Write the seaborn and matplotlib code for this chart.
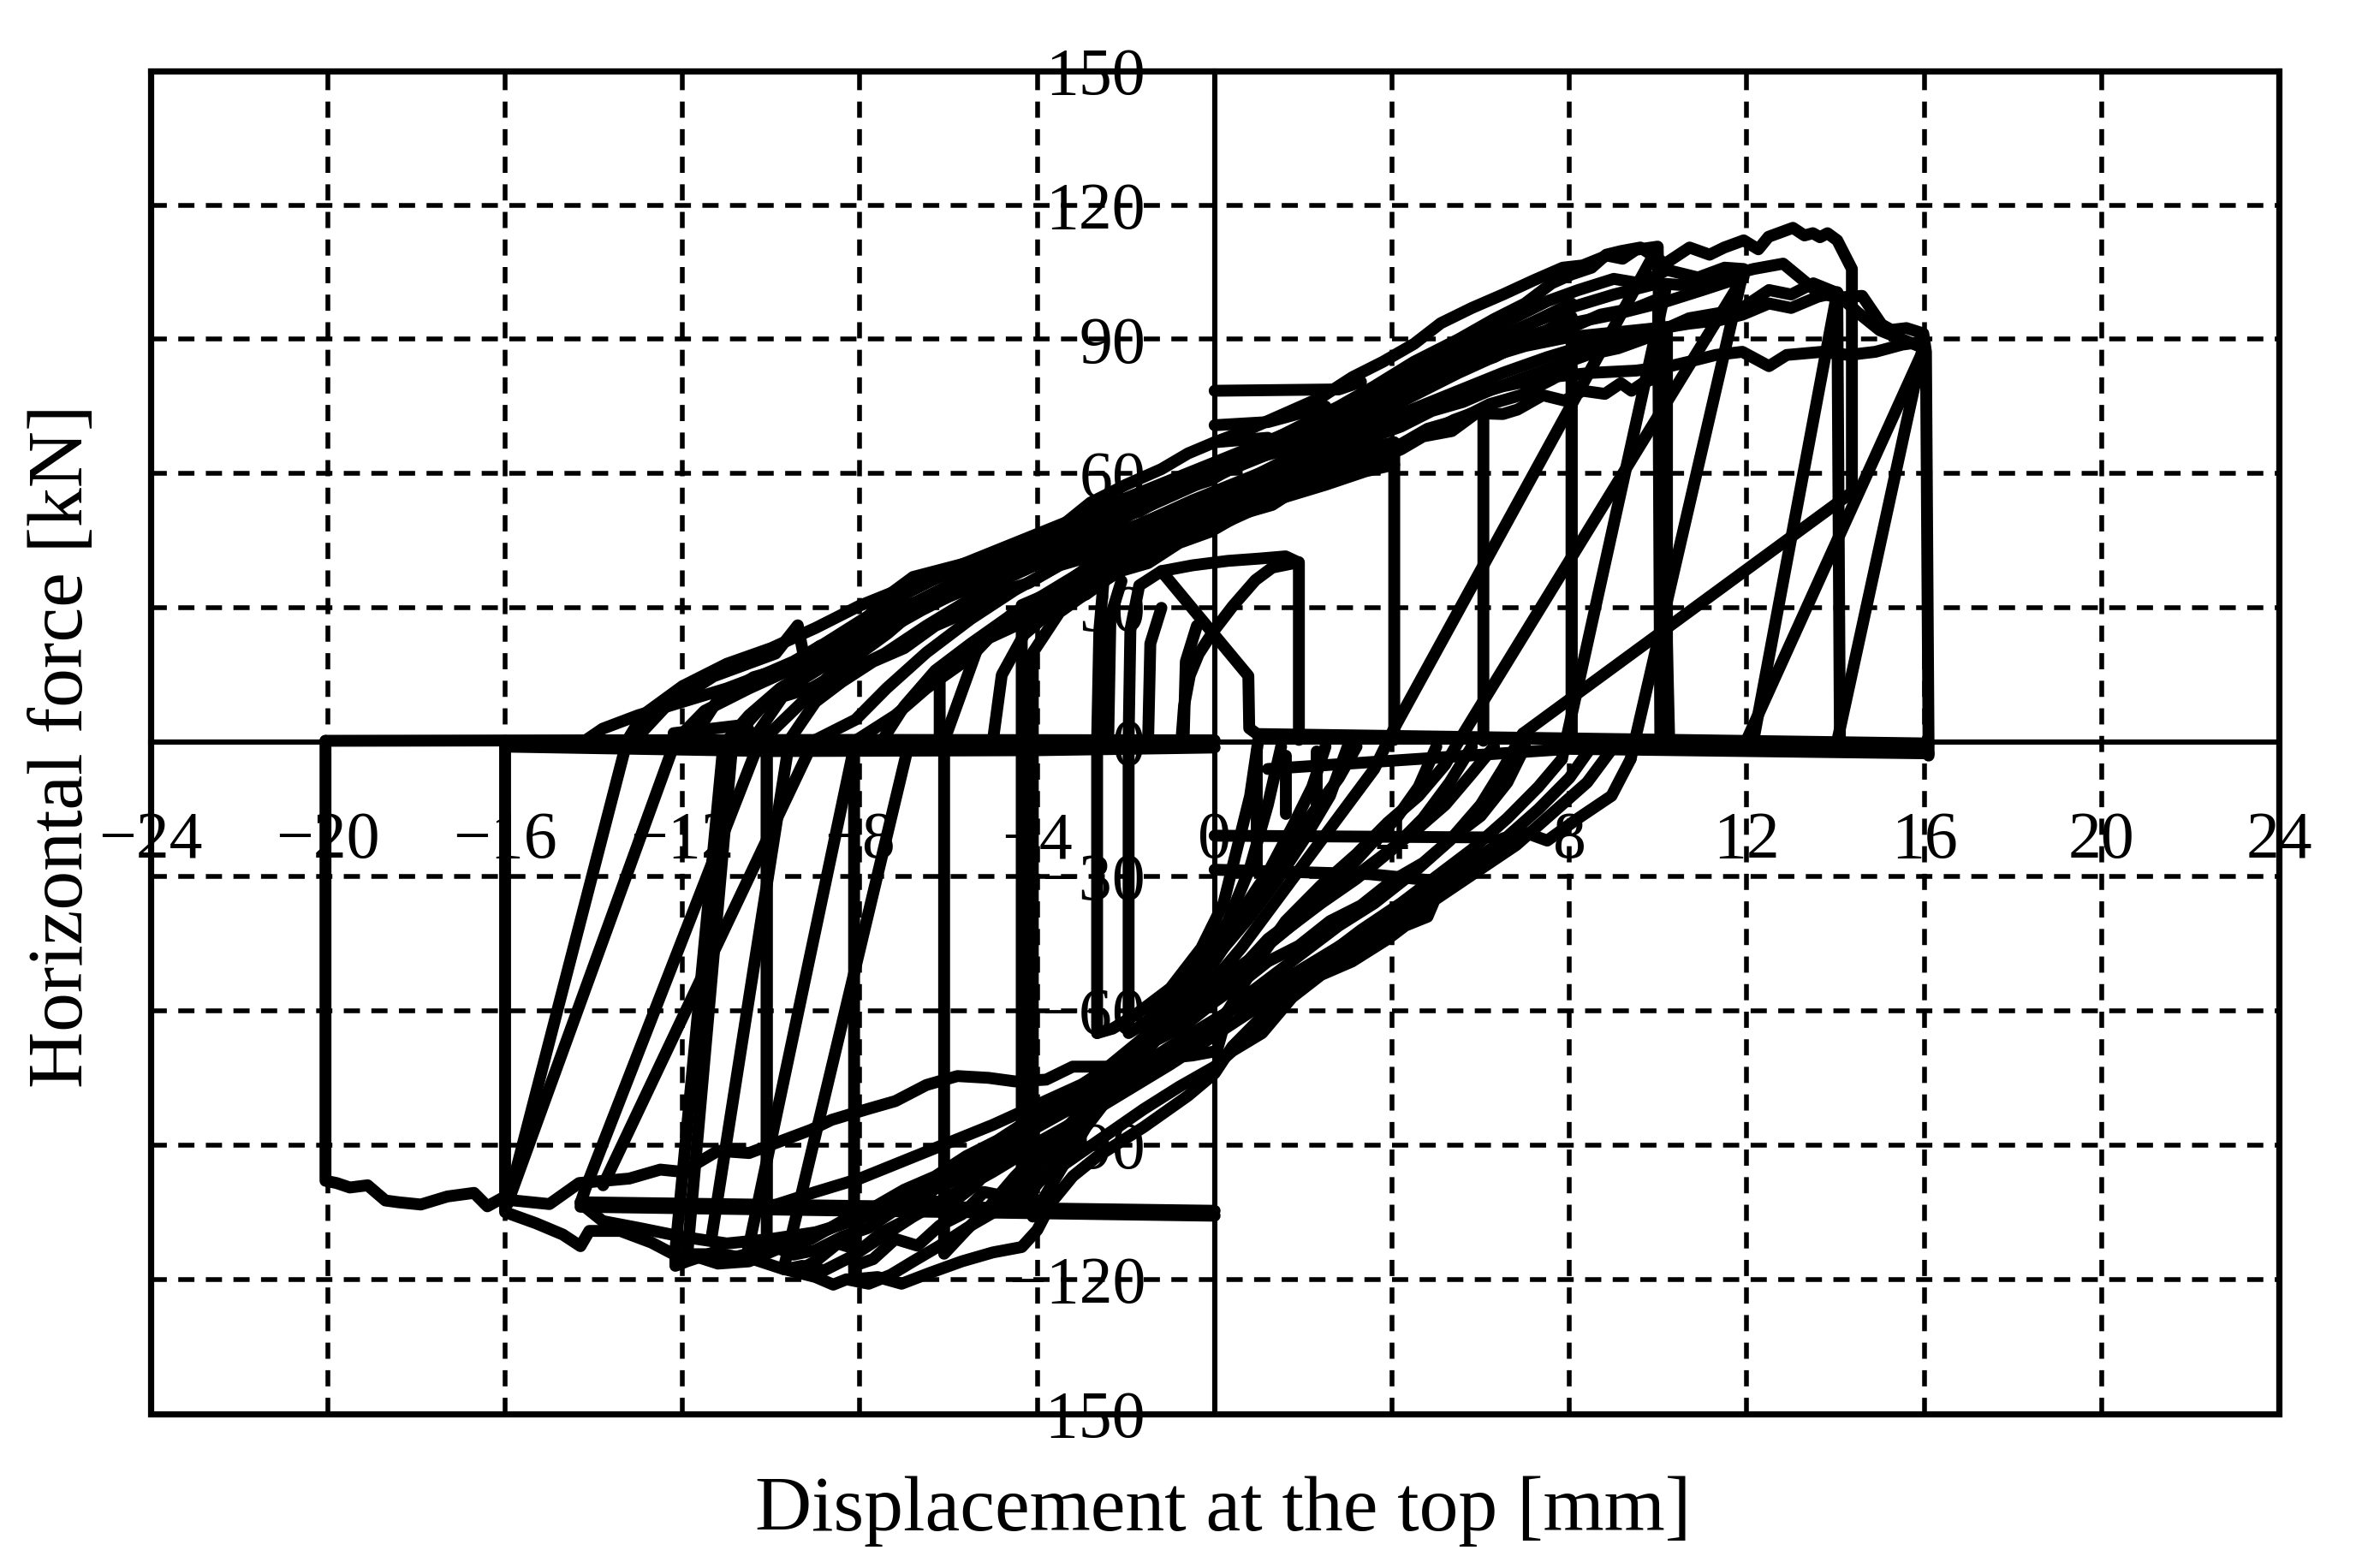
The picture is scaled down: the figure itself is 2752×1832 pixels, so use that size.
import pandas as pd
import matplotlib.pyplot as plt
import seaborn as sns
from matplotlib.patches import Rectangle

# axis ticks
x_ticks = [-24, -20, -16, -12, -8, -4, 0, 4, 8, 12, 16, 20, 24]
y_ticks = [-150, -120, -90, -60, -30, 0, 30, 60, 90, 120, 150]

# branches: (displacement mm, force kN)
up1 = [(-13.3, 0.3), (-13.0, 1.3), (-12.4, 7.7), (-11.3, 14.7), (-9.9, 19.8), (-9.4, 26.1), (-9.2, 15.9),
       (-8.3, 22.9), (-7.4, 32.5), (-6.8, 36.9), (-5.6, 40.0), (-4.6, 42.6), (-4.05, 44.6), (-3.6, 47.1),
       (-2.8, 53.5), (-2.0, 57.5), (-1.2, 61.0), (-0.6, 64.5), (0.0, 67.0), (0.8, 70.0), (1.6, 73.5),
       (2.4, 77.0), (3.1, 81.5), (3.8, 85.0), (4.5, 89.0), (5.1, 93.6), (5.8, 97.0), (6.5, 100.0),
       (7.2, 103.2), (7.85, 106.0), (8.3, 106.5), (8.85, 108.7), (9.2, 108.0), (9.5, 110.0), (9.99, 110.7),
       (10.25, 0.5)]
up_top = [(-11.0, 0.3), (-10.5, 6.0), (-9.8, 12.0), (-9.0, 17.0), (-8.2, 22.0), (-7.5, 27.0), (-6.8, 31.0),
          (-6.0, 35.0), (-5.2, 39.0), (-4.4, 42.5), (-3.6, 46.0), (-2.8, 49.5), (-2.0, 53.0), (-1.2, 56.5),
          (-0.4, 60.0), (0.4, 63.5), (1.2, 67.0), (2.0, 71.0), (2.8, 75.0), (3.6, 79.5), (4.5, 85.0),
          (5.5, 90.0), (6.3, 94.5), (7.0, 98.0), (7.6, 102.5), (8.05, 104.5), (8.5, 106.0), (8.83, 108.9),
          (9.16, 109.7), (9.6, 110.5), (10.16, 106.9), (10.71, 110.5), (11.16, 108.9), (11.49, 110.5),
          (11.93, 112.1), (12.26, 110.1), (12.49, 112.9), (13.04, 114.9), (13.3, 113.2), (13.49, 113.7),
          (13.65, 112.8), (13.82, 113.7), (14.04, 112.1), (14.37, 105.7), (14.37, 55.8), (6.95, 1.9)]
up2 = [(-12.2, 2.0), (-10.57, 3.9), (-10.4, 0.7), (-9.74, 10.2), (-9.07, 12.2), (-8.4, 16.0), (-7.96, 17.3),
       (-7.44, 19.8), (-6.5, 26.0), (-5.5, 32.0), (-4.6, 37.0), (-3.5, 42.0), (-2.5, 47.5), (-1.5, 53.0),
       (-0.5, 58.5), (0.5, 62.5), (1.5, 66.5), (2.5, 71.5), (3.5, 77.0), (4.3, 83.0), (5.2, 87.5),
       (6.0, 91.5), (6.8, 95.0), (7.5, 98.5), (8.2, 101.0), (9.0, 103.5), (9.6, 102.5), (10.2, 105.5),
       (10.9, 103.8), (11.5, 106.0), (11.93, 105.7), (9.38, -3.8)]
up3 = [(-10.1, 1.3), (-8.7, 14.7), (-7.37, 24.3), (-6.48, 31.9), (-5.07, 38.9), (-4.0, 43.0), (-3.0, 47.0),
       (-2.0, 51.5), (-1.0, 55.5), (0.0, 59.5), (1.0, 63.5), (2.0, 67.5), (3.0, 72.0), (4.0, 78.0),
       (5.0, 83.0), (6.0, 87.0), (7.0, 90.5), (8.0, 93.5), (9.0, 95.5), (10.2, 98.5), (11.0, 101.0),
       (11.93, 104.0), (5.51, 0.3)]
up4 = [(-9.04, 0.3), (-8.1, 5.0), (-7.4, 12.0), (-6.5, 20.0), (-5.5, 27.5), (-4.5, 34.0), (-3.5, 39.5),
       (-2.5, 44.5), (-1.5, 49.5), (-0.5, 54.0), (0.5, 58.0), (1.5, 62.0), (2.5, 66.0), (3.5, 70.5),
       (4.5, 74.5), (5.5, 78.5), (6.5, 82.5), (7.5, 86.0), (8.5, 89.0), (9.5, 91.0), (10.27, 92.8),
       (10.7, 93.5), (11.4, 94.3), (11.9, 95.5), (12.5, 98.0), (13.0, 97.0), (13.6, 99.5), (14.04, 100.5),
       (14.1, 0.5)]
up5 = [(-13.25, 0.3), (-12.9, 6.0), (-12.0, 12.5), (-11.0, 17.5), (-10.0, 21.0), (-9.0, 25.5), (-8.0, 30.5),
       (-7.0, 34.5), (-6.0, 38.5), (-5.0, 42.5), (-4.0, 46.5), (-3.0, 50.5), (-2.0, 54.5), (-1.0, 58.5),
       (0.0, 62.5), (1.0, 66.5), (2.0, 70.5), (3.0, 74.5), (4.0, 79.5), (5.0, 84.5), (6.0, 89.0),
       (7.0, 93.0), (8.0, 97.0), (9.0, 100.0), (10.0, 102.5), (10.7, 102.0), (11.5, 104.0), (12.15, 105.7),
       (12.82, 106.9), (13.26, 103.3), (13.6, 100.5), (14.04, 99.3), (14.6, 99.7), (15.04, 93.3),
       (15.26, 92.1), (15.6, 92.5), (15.98, 91.3), (16.04, 87.2), (16.1, -3.0)]
up6 = [(-12.16, 0.3), (-11.5, 7.0), (-10.5, 12.0), (-9.5, 16.5), (-8.5, 21.0), (-7.5, 25.5), (-6.5, 30.5),
       (-5.5, 34.5), (-4.5, 38.0), (-3.5, 41.5), (-2.5, 45.5), (-1.5, 49.5), (-0.5, 53.5), (0.5, 57.5),
       (1.5, 61.5), (2.5, 65.5), (3.5, 69.5), (4.5, 73.5), (5.5, 76.5), (6.5, 79.5), (7.5, 81.5),
       (8.5, 82.5), (9.5, 83.0), (10.27, 84.0), (10.7, 85.0), (11.3, 86.5), (11.9, 87.2), (12.5, 84.0),
       (12.9, 86.5), (13.7, 87.2), (14.3, 86.5), (14.9, 87.2), (15.5, 88.8), (16.0, 89.5), (14.04, 0.25)]
up7 = [(-10.9, 0.3), (-10.2, 8.0), (-9.3, 14.0), (-8.4, 19.5), (-7.5, 24.5), (-6.6, 29.5), (-5.7, 34.0),
       (-4.8, 38.0), (-3.9, 42.0), (-3.0, 46.0), (-2.1, 50.0), (-1.2, 54.0), (-0.3, 58.0), (0.6, 62.0),
       (1.5, 66.0), (2.4, 70.0), (3.3, 74.0), (4.2, 78.0), (5.1, 82.0), (6.0, 85.5), (7.0, 88.5),
       (8.0, 90.5), (9.0, 91.5), (10.27, 92.8), (10.7, 94.7), (11.4, 95.9), (11.9, 97.0), (12.5, 101.0),
       (13.0, 100.0), (13.5, 102.5), (14.0, 100.5), (14.5, 96.0), (15.0, 92.0), (15.5, 90.0), (16.0, 88.0),
       (11.99, 0.3)]
up8 = [(-8.1, 0.3), (-7.2, 6.0), (-6.5, 12.0), (-5.5, 19.0), (-4.56, 28.8), (-3.8, 31.5), (-3.0, 35.0),
       (-2.0, 39.5), (-1.0, 44.0), (0.0, 48.0), (1.0, 52.5), (2.0, 57.0), (2.9, 60.5), (3.6, 63.0),
       (4.2, 65.4), (4.7, 68.3), (5.35, 69.5), (5.9, 73.5), (6.5, 73.3), (6.83, 74.3), (7.4, 77.5),
       (7.89, 76.3), (8.3, 78.5), (8.8, 77.8), (9.16, 80.2), (9.4, 78.5), (9.7, 80.5), (10.15, 81.9),
       (10.15, 0.5)]
up9 = [(-7.5, 0.3), (-7.0, 8.0), (-6.3, 16.0), (-5.5, 22.0), (-4.5, 29.0), (-3.5, 35.0), (-2.5, 41.0),
       (-1.5, 47.0), (-0.5, 52.5), (0.5, 57.5), (1.5, 62.5), (2.5, 67.5), (3.5, 72.5), (4.5, 77.5),
       (5.5, 82.5), (6.5, 87.0), (7.3, 91.0), (8.05, 95.0), (8.05, 0.3)]
up10 = [(-6.2, 0.3), (-6.2, 16.0), (-5.5, 21.5), (-4.7, 26.5), (-4.0, 30.5), (-3.0, 35.5), (-2.0, 40.5),
        (-1.0, 45.5), (0.0, 50.0), (1.0, 55.0), (2.0, 59.5), (2.8, 62.5), (3.5, 65.0), (4.2, 66.5),
        (4.8, 69.0), (5.4, 72.0), (6.06, 74.4), (6.06, 0.3)]
up11 = [(-4.35, 0.5), (-4.35, 30.6), (-3.6, 33.8), (-2.8, 39.5), (-2.0, 44.0), (-1.0, 49.0), (0.0, 53.0),
        (0.8, 56.0), (1.6, 59.0), (2.18, 62.2), (3.0, 63.5), (3.6, 64.5), (4.05, 65.4), (4.05, 0.5)]
up12 = [(-4.1, 0.5), (-4.1, 20.0), (-3.5, 29.0), (-2.5, 36.0), (-1.5, 42.0), (-0.5, 47.0), (0.5, 51.0),
        (1.5, 54.5), (2.5, 57.5), (3.4, 60.5), (4.05, 62.0)]
up13 = [(-2.65, -65.0), (-2.65, 0.3), (-2.6, 25.0), (-2.5, 36.5), (-2.0, 41.5), (-1.2, 46.0), (-0.5, 50.0),
        (0.3, 54.0), (1.0, 57.0), (1.9, 60.0), (2.6, 62.0), (3.3, 63.5), (4.05, 64.5)]
up14 = [(-14.2, 0.3), (-13.8, 3.0), (-13.0, 6.0), (-12.0, 9.0), (-11.0, 12.0), (-10.2, 15.0), (-9.5, 18.0),
        (-8.8, 22.0), (-8.0, 27.0), (-7.2, 32.0), (-6.4, 36.0), (-5.5, 40.0), (-4.6, 43.0), (-3.7, 46.5),
        (-2.8, 50.0), (-1.9, 54.0), (-1.0, 57.5), (0.0, 61.0), (1.0, 65.0), (2.0, 69.0), (2.9, 73.0),
        (3.8, 77.0), (4.6, 81.0), (5.4, 85.0), (6.2, 89.0), (7.0, 93.0), (8.05, 98.0)]
up15 = [(-6.1, 0.3), (-5.3, 22.3), (-4.05, 28.0), (-3.6, 33.8), (-2.8, 39.5), (-2.0, 43.0), (-1.0, 47.5),
        (0.0, 51.5), (1.0, 56.0), (2.0, 60.5), (3.0, 64.5), (4.05, 67.0)]
up16 = [(-9.6, 0.3), (-9.0, 9.0), (-8.4, 13.5), (-7.7, 18.0), (-7.0, 21.0), (-6.3, 26.0), (-5.6, 29.0),
        (-4.9, 33.5), (-4.2, 35.5), (-3.5, 39.5), (-2.8, 41.5), (-2.1, 45.0), (-1.4, 47.5), (-0.7, 51.0),
        (0.0, 53.0), (0.7, 56.5), (1.4, 58.5), (2.1, 62.0), (2.8, 64.5), (3.5, 68.0), (4.2, 70.5),
        (4.9, 74.0), (5.6, 76.0), (6.3, 79.0), (7.0, 81.5), (7.7, 84.0), (8.4, 86.5), (9.1, 88.0),
        (9.8, 90.5), (10.2, 92.0), (10.2, 0.5)]
up17 = [(-5.0, 0.3), (-4.8, 15.0), (-4.3, 24.0), (-3.6, 30.0), (-2.9, 33.0), (-2.2, 38.0), (-1.5, 40.0),
        (-0.8, 44.5), (-0.1, 47.0), (0.6, 51.0), (1.3, 53.0), (2.0, 57.5), (2.7, 59.5), (3.4, 63.5),
        (4.1, 66.0), (4.8, 70.0), (5.5, 72.0), (6.2, 75.5), (6.9, 77.5), (7.6, 81.0), (8.05, 83.5),
        (8.05, 0.3)]
up18 = [(-11.8, 0.3), (-11.2, 9.5), (-10.4, 14.5), (-9.6, 16.8), (-8.9, 21.5), (-8.1, 24.0), (-7.3, 29.5),
        (-6.5, 32.0), (-5.7, 36.5), (-4.9, 38.5), (-4.1, 43.0), (-3.3, 45.0), (-2.5, 49.5), (-1.7, 51.5),
        (-0.9, 56.0), (-0.1, 58.5), (0.7, 63.0), (1.5, 65.0), (2.3, 69.5), (3.1, 72.0), (3.9, 76.5),
        (4.7, 79.0), (5.5, 83.5), (6.3, 86.0), (7.1, 90.0), (7.9, 92.0), (8.7, 95.5), (9.5, 97.0),
        (10.0, 99.0), (10.05, 0.5)]

# small cycles around the origin
sm1 = [(1.9, 0.5), (1.9, 40.2), (1.3, 39.0), (0.92, 36.2), (0.41, 30.4), (-0.04, 24.6), (-0.36, 19.7),
       (-0.56, 14.9), (-0.69, 8.1), (-0.75, 0.3)]
sm2 = [(-1.94, 0.5), (-1.9, 25.0), (-1.7, 35.0), (-1.2, 38.2), (-0.5, 39.5), (0.3, 40.5), (1.0, 41.0),
       (1.6, 41.5), (1.88, 40.2)]
sm3 = [(-1.2, 38.2), (0.76, 14.8), (0.78, 3.1), (1.0, 1.5)]
vs1 = [(-2.4, 0.3), (-2.35, 28.0), (-2.1, 36.0)]
vs2 = [(-1.5, 0.3), (-1.45, 22.0), (-1.2, 30.0)]
vs3 = [(-0.7, 0.3), (-0.65, 18.0), (-0.4, 26.0)]
hp1 = [(0.0, 78.5), (2.8, 78.8), (3.3, 80.5)]
hp2 = [(0.0, 70.8), (1.2, 71.5), (2.5, 75.0)]
hp3 = [(0.0, 67.0), (1.2, 68.0)]

# unloading lines after positive peaks
dp1 = [(9.99, 110.5), (4.07, 3.5)]
dp2 = [(10.16, 100.8), (7.83, -3.8)]
un14 = [(14.04, 100.5), (12.16, 1.0)]

# near-zero force segments
z1 = [(1.0, 1.8), (16.1, -0.3)]
z2 = [(1.2, -6.0), (8.0, -1.5), (16.1, -2.5)]
z3 = [(-20.05, 0.3), (-8.0, 0.5), (0.0, 0.4)]
z4 = [(-16.0, -1.0), (-10.0, -2.0), (-4.0, -1.8), (0.0, -1.2)]

# reloading lines after negative peaks
dn1 = [(-15.95, -103.2), (-13.25, 0.3)]
dn2 = [(-15.95, -103.2), (-12.16, 0.3)]
dn4 = [(-13.79, -99.0), (-9.04, 0.3)]
dn6 = [(-11.89, -114.3), (-10.87, 0.3)]
dn7 = [(-11.35, -111.0), (-9.59, 0.3)]
dn9 = [(-10.54, -114.3), (-8.1, 0.3)]

# loading branches towards negative displacement
lo1 = [(9.38, -3.8), (8.95, -12.0), (8.2, -17.0), (7.5, -22.0), (7.03, -20.3), (6.5, -21.5), (6.0, -27.0),
       (5.5, -30.0), (5.1, -32.0), (4.8, -39.0), (4.3, -41.0), (3.9, -44.0), (3.1, -49.0), (2.4, -52.0),
       (1.75, -57.0), (1.07, -65.0), (0.4, -69.0), (0.0, -72.5), (-0.8, -77.0), (-1.6, -82.0),
       (-2.4, -87.5), (-3.2, -93.0), (-4.0, -98.5), (-4.8, -104.0), (-5.5, -108.0), (-6.2, -112.5),
       (-6.8, -116.0), (-7.3, -119.0), (-7.8, -121.0), (-8.3, -120.0), (-8.6, -121.2), (-9.0, -119.5),
       (-9.72, -117.7), (-6.88, 0.3)]
lo2 = [(6.95, 1.9), (6.5, -6.0), (6.0, -14.0), (5.3, -22.0), (4.5, -29.0), (3.6, -36.0), (2.8, -41.0),
       (2.0, -47.0), (1.2, -53.0), (0.4, -59.0), (0.0, -63.0), (-1.0, -70.0), (-2.0, -77.0), (-3.0, -84.0),
       (-4.0, -90.0), (-5.0, -96.0), (-6.0, -101.5), (-6.8, -106.0), (-7.5, -110.5), (-8.2, -115.0),
       (-8.8, -118.0), (-9.3, -117.0), (-9.7, -117.8), (-10.5, -115.2), (-11.3, -114.4), (-12.2, -114.4),
       (-12.7, -111.8), (-13.4, -109.2), (-14.1, -109.2), (-14.3, -112.6), (-14.7, -110.0),
       (-15.3, -107.5), (-16.0, -105.0), (-16.0, 0.3)]
lo3 = [(5.51, 0.3), (5.2, -5.0), (4.6, -12.0), (3.9, -18.0), (3.2, -25.0), (2.4, -32.0), (1.6, -40.0),
       (0.9, -50.0), (0.3, -60.0), (0.05, -69.0), (-0.5, -70.0), (-1.3, -70.8), (-2.1, -72.5),
       (-3.2, -72.5), (-3.8, -75.4), (-4.5, -75.8), (-5.1, -75.0), (-5.8, -74.6), (-6.5, -76.6),
       (-7.2, -80.2), (-7.8, -81.9), (-8.64, -84.4), (-9.1, -86.6), (-9.8, -89.2), (-10.5, -91.8),
       (-11.2, -91.3), (-12.0, -96.0), (-12.5, -95.5), (-13.2, -97.5), (-14.33, -98.5), (-15.0, -103.2),
       (-15.8, -102.4), (-16.0, -101.5), (-16.4, -103.7), (-16.7, -100.7), (-17.3, -101.5),
       (-17.9, -103.3), (-18.4, -102.8), (-18.7, -102.4), (-19.1, -99.0), (-19.5, -99.5), (-19.8, -98.5),
       (-20.05, -98.0), (-20.05, 0.3)]
lo4 = [(7.83, -3.8), (7.3, -10.0), (6.6, -17.0), (5.8, -24.0), (5.0, -30.0), (4.2, -36.0), (3.3, -42.0),
       (2.5, -48.0), (1.7, -55.0), (1.0, -62.0), (0.4, -68.0), (0.0, -74.0), (-0.6, -79.0), (-1.6, -86.0),
       (-2.65, -92.6), (-3.2, -97.0), (-3.67, -102.7), (-4.0, -109.0), (-4.35, -112.8), (-5.0, -114.0),
       (-5.7, -116.0), (-6.4, -118.5), (-7.06, -121.0), (-7.6, -119.5), (-8.13, -120.0), (-8.13, 0.3)]
lo5 = [(4.07, 3.5), (3.6, -6.0), (3.0, -14.0), (2.4, -22.0), (1.8, -30.0), (1.2, -38.0), (0.6, -46.0),
       (0.0, -53.0), (-0.7, -60.0), (-1.5, -68.0), (-2.3, -76.0), (-3.0, -83.0), (-3.8, -90.0),
       (-4.5, -97.0), (-5.1, -104.0), (-5.6, -109.0), (-6.1, -114.3), (-6.1, 0.3)]
lo6 = [(3.2, -1.0), (2.8, -8.0), (2.2, -16.0), (1.6, -24.0), (1.0, -32.0), (0.4, -41.0), (-0.2, -50.0),
       (-0.8, -59.0), (-1.5, -68.0), (-2.2, -77.0), (-2.9, -86.0), (-3.5, -96.0), (-4.1, -106.0),
       (-4.1, 0.3)]
lo7 = [(6.3, -1.0), (5.8, -7.0), (5.2, -14.0), (4.5, -20.0), (3.7, -26.0), (2.9, -32.0), (2.1, -38.0),
       (1.3, -44.5), (0.6, -51.0), (0.0, -57.0), (-1.0, -64.0), (-2.0, -70.5), (-3.0, -76.5), (-4.0, -81.0),
       (-5.0, -85.5), (-6.0, -89.5), (-7.0, -93.5), (-8.0, -97.5), (-9.0, -100.5), (-10.1, -104.0),
       (-10.1, 0.3)]
lo8 = [(8.5, -1.0), (8.0, -8.0), (7.3, -15.0), (6.5, -22.0), (5.7, -27.5), (4.8, -33.5), (4.0, -38.5),
       (3.0, -44.5), (2.0, -50.5), (1.0, -56.5), (0.0, -62.0), (-1.0, -68.0), (-2.0, -74.5), (-3.0, -80.5),
       (-4.0, -86.0), (-5.0, -91.5), (-6.0, -96.5), (-7.0, -101.5), (-8.0, -106.0), (-9.0, -110.0),
       (-10.0, -113.0), (-10.8, -115.0), (-11.3, -114.0), (-11.9, -116.0), (-12.16, -117.0),
       (-12.16, -113.5), (-11.07, 0.3)]
lo9 = [(9.0, -1.0), (8.4, -9.0), (7.6, -16.0), (6.8, -23.0), (5.9, -29.0), (5.0, -35.0), (4.0, -41.0),
       (3.0, -47.0), (2.0, -53.0), (1.0, -59.0), (0.0, -65.5), (-1.0, -72.0), (-2.0, -78.0), (-3.0, -84.0),
       (-4.0, -89.5), (-5.0, -94.0), (-6.0, -98.5), (-7.0, -102.5), (-8.0, -106.5), (-9.0, -109.5),
       (-10.0, -111.0), (-11.0, -112.0), (-12.0, -110.5), (-13.0, -108.5), (-13.8, -107.0),
       (-14.3, -103.0), (-14.19, -99.8), (-10.26, 0.3)]
lo10 = [(5.0, -1.0), (4.6, -10.0), (4.1, -17.0), (3.6, -22.0), (3.0, -28.5), (2.4, -33.0), (1.8, -39.5),
        (1.2, -44.0), (0.6, -50.5), (0.0, -55.0), (-0.6, -61.0), (-1.2, -64.5), (-1.8, -70.0), (-2.4, -73.5),
        (-3.0, -79.0), (-3.6, -82.0), (-4.2, -87.0), (-4.8, -90.0), (-5.4, -95.0), (-6.0, -97.5),
        (-6.6, -102.0), (-7.2, -104.5), (-7.8, -108.5), (-8.4, -110.5), (-9.0, -113.5), (-9.5, -114.5),
        (-10.1, -112.0), (-10.1, 0.3)]
lo11 = [(7.0, -1.0), (6.6, -9.0), (6.0, -16.5), (5.4, -21.0), (4.7, -27.0), (4.0, -31.0), (3.3, -36.5),
        (2.6, -40.0), (1.9, -45.5), (1.2, -49.0), (0.5, -54.5), (0.0, -58.0), (-0.7, -63.5), (-1.4, -67.0),
        (-2.1, -72.5), (-2.8, -76.0), (-3.5, -81.0), (-4.2, -84.5), (-4.9, -89.0), (-5.6, -92.5),
        (-6.3, -97.0), (-7.0, -100.0), (-7.7, -104.0), (-8.4, -107.0), (-9.1, -111.0), (-9.8, -113.0),
        (-10.5, -116.0), (-11.2, -116.5), (-11.89, -114.3)]
lo12 = [(2.5, -1.0), (2.2, -10.0), (1.8, -18.0), (1.4, -25.5), (1.0, -33.0), (0.6, -39.5), (0.2, -46.0),
        (-0.3, -53.5), (-0.8, -60.0), (-1.4, -67.5), (-2.0, -74.0), (-2.6, -81.5), (-3.2, -88.0),
        (-3.7, -95.0), (-4.1, -100.0), (-4.35, -105.0), (-4.35, 0.3)]
lo13 = [(3.0, -1.0), (2.6, -12.0), (2.0, -22.0), (1.4, -31.0), (0.8, -39.0), (0.2, -46.0), (-0.4, -53.0),
        (-1.0, -60.0), (-1.7, -67.0), (-2.4, -74.0), (-3.0, -82.0), (-3.6, -90.0), (-4.2, -97.0),
        (-4.7, -101.5), (-5.2, -100.5), (-5.7, -105.5), (-6.2, -108.0), (-6.7, -112.5), (-7.2, -111.0),
        (-7.7, -115.5), (-8.13, -117.0)]
lo14 = [(5.8, -1.0), (5.3, -9.0), (4.7, -17.0), (4.0, -24.0), (3.2, -30.5), (2.4, -36.0), (1.6, -42.0),
        (0.8, -48.5), (0.0, -54.0), (-0.8, -60.5), (-1.6, -66.0), (-2.4, -72.5), (-3.2, -78.0), (-4.0, -85.0),
        (-4.8, -92.0), (-5.4, -99.0), (-6.0, -103.5), (-6.5, -102.0), (-7.0, -107.0), (-7.5, -109.5),
        (-8.0, -113.5), (-8.5, -112.0), (-9.0, -116.0), (-9.4, -118.0), (-9.72, -117.7)]
los1 = [(1.0, 1.5), (0.8, -12.0), (0.5, -24.0), (0.2, -36.0), (-0.3, -46.0), (-1.0, -55.0), (-1.8, -61.0),
        (-2.3, -64.0), (-2.65, -65.0)]
los2 = [(1.5, -1.0), (1.2, -14.0), (0.8, -28.0), (0.3, -40.0), (-0.4, -50.0), (-1.1, -58.0), (-1.6, -63.0),
        (-1.94, -65.0), (-1.94, 0.5)]

# straight jumps in the record
hn1 = [(0.0, -104.7), (-14.3, -102.8)]
hn2 = [(0.0, -105.8), (-14.3, -103.8)]
hn3 = [(0.0, -20.9), (6.3, -21.3)]
hn4 = [(0.0, -28.5), (3.5, -29.5), (5.0, -31.0)]
vn1 = [(0.95, -2.0), (0.95, -28.0)]
vn2 = [(1.6, -3.0), (1.6, -16.0)]
vn3 = [(2.3, -2.0), (2.3, -15.0)]

branches = {
    'up1': up1, 'up_top': up_top, 'up2': up2, 'up3': up3, 'up4': up4, 'up5': up5, 'up6': up6, 'up7': up7,
    'up8': up8, 'up9': up9, 'up10': up10, 'up11': up11, 'up12': up12, 'up13': up13, 'up14': up14,
    'up15': up15, 'up16': up16, 'up17': up17, 'up18': up18,
    'sm1': sm1, 'sm2': sm2, 'sm3': sm3, 'vs1': vs1, 'vs2': vs2, 'vs3': vs3,
    'hp1': hp1, 'hp2': hp2, 'hp3': hp3,
    'dp1': dp1, 'dp2': dp2, 'un14': un14, 'z1': z1, 'z2': z2, 'z3': z3, 'z4': z4,
    'dn1': dn1, 'dn2': dn2, 'dn4': dn4, 'dn6': dn6, 'dn7': dn7, 'dn9': dn9,
    'lo1': lo1, 'lo2': lo2, 'lo3': lo3, 'lo4': lo4, 'lo5': lo5, 'lo6': lo6, 'lo7': lo7, 'lo8': lo8,
    'lo9': lo9, 'lo10': lo10, 'lo11': lo11, 'lo12': lo12, 'lo13': lo13, 'lo14': lo14,
    'los1': los1, 'los2': los2,
    'hn1': hn1, 'hn2': hn2, 'hn3': hn3, 'hn4': hn4, 'vn1': vn1, 'vn2': vn2, 'vn3': vn3,
}
rows = [(name, i, x, y) for name, pts in branches.items() for i, (x, y) in enumerate(pts)]
df = pd.DataFrame(rows, columns=['branch', 'order', 'disp', 'force'])

sns.set_theme(style='white')
plt.rcParams['font.family'] = ['Liberation Serif', 'DejaVu Serif']
plt.rcParams['text.color'] = 'black'
plt.rcParams['axes.labelcolor'] = 'black'

fig = plt.figure(figsize=(13.76, 9.16), dpi=200)
ax = fig.add_axes([0.0638, 0.0985, 0.9035, 0.8564])

sns.lineplot(data=df, x='disp', y='force', units='branch', estimator=None, sort=False,
             color='black', legend=False, ax=ax)
for line in ax.lines:
    line.set_linewidth(5.0)
    line.set_solid_joinstyle('round')
    line.set_solid_capstyle('round')

ax.set_xlim(-24, 24)
ax.set_ylim(-150, 150)
ax.set_xticks(x_ticks)
ax.set_yticks(y_ticks)
ax.grid(True, color='black', linestyle=(0, (3.4, 2.4)), linewidth=2.0)
ax.tick_params(length=0, pad=29, labelsize=28, colors='black')

# axes cross at the origin, plus an outer frame
ax.spines['left'].set_position(('data', 0))
ax.spines['bottom'].set_position(('data', 0))
for s in ax.spines.values():
    s.set_color('black')
    s.set_linewidth(2.2)
ax.add_patch(Rectangle((0, 0), 1, 1, transform=ax.transAxes, fill=False,
                       edgecolor='black', linewidth=2.6, zorder=3, clip_on=False))

ax.set_xlabel('Displacement at the top [mm]', fontsize=33, va='center')
ax.xaxis.set_label_coords(0.504, -0.073)
ax.set_ylabel('Horizontal force [kN]', fontsize=33, va='center')
ax.yaxis.set_label_coords(-0.041, 0.497)

fig.savefig('out.png', dpi=200)
